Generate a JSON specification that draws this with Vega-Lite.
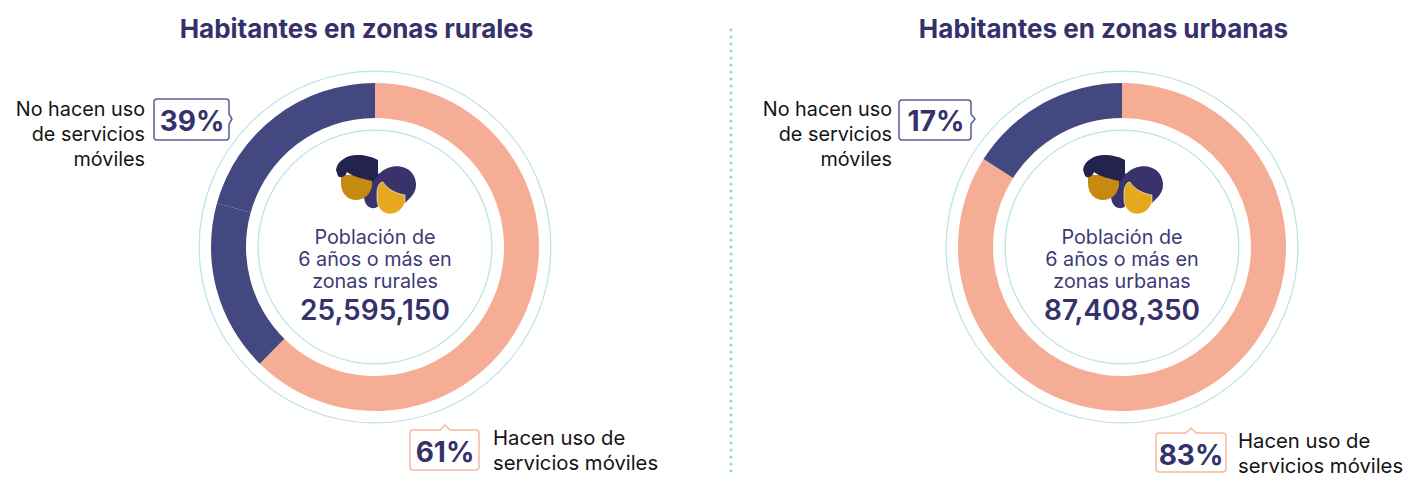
{
"$schema":"https://vega.github.io/schema/vega-lite/v6.json",
"padding":{"left":0,"top":7,"right":0,"bottom":0},
"background":"white",
"bounds":"flush",
"spacing":73.5,
"config":{"view":{"stroke":null},"text":{"font":"Inter"}},
"hconcat":[
{"width":750,"height":480,"layer":[
{"data":{"values":[{}]},"mark":{"type":"arc","radius":176.5,"radius2":175.3,"theta":0,"theta2":6.2832,"fill":"#bde4df"}},
{"data":{"values":[{}]},"mark":{"type":"arc","radius":117.5,"radius2":116.3,"theta":0,"theta2":6.2832,"fill":"#bde4df"}},
{"data":{"values":[{"segmento":"Hacen uso","orden":1,"valor":62.4},{"segmento":"No hacen uso","orden":2,"valor":16.9},{"segmento":"No hacen uso","orden":3,"valor":20.7}]},
 "mark":{"type":"arc","radius":164,"radius2":129},
 "encoding":{"theta":{"field":"valor","type":"quantitative","stack":true},"order":{"field":"orden"},"color":{"field":"segmento","type":"nominal","legend":null,"scale":{"domain":["Hacen uso","No hacen uso"],"range":["#f6ad95","#434880"]}}}},
{"data":{"values":[{}]},"mark":{"type":"point","size":4,"opacity":1,"shape":"M356,-217 L356,225","fill":null,"stroke":"#8fdcc8","strokeWidth":3,"strokeCap":"round","strokeDash":[0,7]}},
{"data":{"values":[{}]},"mark":{"type":"point","size":4,"opacity":1,"strokeWidth":0,"fill":"#38346b","shape":"M-11,-50 C-8,-60 -2,-72 5,-74 C14,-83 30,-83 37,-74 C43,-66 42,-56 36,-50 L28,-42 L4,-42 C0,-36 -10,-38 -11,-50 Z"}},
{"data":{"values":[{}]},"mark":{"type":"point","size":4,"opacity":1,"strokeWidth":0,"fill":"#c68a12","shape":"M-34,-72 L-3,-72 L-3,-62 C-4,-52 -12,-47 -19,-47 C-28,-47 -34,-54 -34,-64 Z"}},
{"data":{"values":[{}]},"mark":{"type":"point","size":4,"opacity":1,"strokeWidth":0,"fill":"#24224f","shape":"M-39,-77 C-38,-86 -28,-92 -18,-92 C-10,-92 -2,-90 3,-87 L3,-72 L-2,-65 L-3,-66 C-10,-68 -22,-70 -28,-75 C-29,-71 -34,-68 -37,-71 Z"}},
{"data":{"values":[{}]},"mark":{"type":"point","size":4,"opacity":1,"stroke":"#ffffff","strokeWidth":0.6,"fill":"#e5a81f","shape":"M2,-56 C3,-62 5,-65 8,-65 C12,-58 22,-53 30,-52 L30,-45 C28,-38 22,-33 15,-33 C7,-33 2,-40 2,-48 Z"}},
{"data":{"values":[{}]},"mark":{"type":"point","size":4,"opacity":1,"fill":"#ffffff","stroke":"#5d5c96","strokeWidth":1.5,"shape":"M-218,-148 L-149,-148 Q-146,-148 -146,-145 L-146,-133 L-143,-128 L-146,-123 L-146,-110 Q-146,-107 -149,-107 L-218,-107 Q-221,-107 -221,-110 L-221,-145 Q-221,-148 -218,-148 Z"}},
{"data":{"values":[{}]},"mark":{"type":"point","size":4,"opacity":1,"fill":"#ffffff","stroke":"#f7b9a3","strokeWidth":1.5,"shape":"M38,183 L65,183 L70,178 L75,183 L101,183 Q104,183 104,186 L104,220 Q104,223 101,223 L38,223 Q35,223 35,220 L35,186 Q35,183 38,183 Z"}},
{"data":{"values":[{"t":"Habitantes en zonas rurales"}]},"mark":{"type":"text","dx":-18.5,"dy":-209,"fontSize":26,"fontWeight":700,"align":"center","baseline":"alphabetic","fill":"#35326b"},"encoding":{"text":{"field":"t"}}},
{"data":{"values":[{"t":"Población de\n6 años o más en\nzonas rurales"}]},"mark":{"type":"text","dx":0,"dy":-3.5,"fontSize":19.8,"lineHeight":22,"lineBreak":"\n","align":"center","baseline":"alphabetic","fill":"#3d3a75"},"encoding":{"text":{"field":"t"}}},
{"data":{"values":[{"t":"25,595,150"}]},"mark":{"type":"text","dx":0,"dy":73,"fontSize":28,"fontWeight":600,"align":"center","baseline":"alphabetic","fill":"#35326b"},"encoding":{"text":{"field":"t"}}},
{"data":{"values":[{"t":"No hacen uso\nde servicios\nmóviles"}]},"mark":{"type":"text","dx":-230,"dy":-131,"fontSize":19.8,"lineHeight":25,"lineBreak":"\n","align":"right","baseline":"alphabetic","fill":"#141414"},"encoding":{"text":{"field":"t"}}},
{"data":{"values":[{"t":"Hacen uso de\nservicios móviles"}]},"mark":{"type":"text","dx":118,"dy":198,"fontSize":20.3,"lineHeight":25,"lineBreak":"\n","align":"left","baseline":"alphabetic","fill":"#141414"},"encoding":{"text":{"field":"t"}}},
{"data":{"values":[{"t":"39%"}]},"mark":{"type":"text","dx":-183,"dy":-116,"fontSize":28,"fontWeight":700,"align":"center","baseline":"alphabetic","fill":"#35326b"},"encoding":{"text":{"field":"t"}}},
{"data":{"values":[{"t":"61%"}]},"mark":{"type":"text","dx":70,"dy":215,"fontSize":28,"fontWeight":700,"align":"center","baseline":"alphabetic","fill":"#35326b"},"encoding":{"text":{"field":"t"}}}
]},
{"width":597,"height":480,"layer":[
{"data":{"values":[{}]},"mark":{"type":"arc","radius":176.5,"radius2":175.3,"theta":0,"theta2":6.2832,"fill":"#bde4df"}},
{"data":{"values":[{}]},"mark":{"type":"arc","radius":117.5,"radius2":116.3,"theta":0,"theta2":6.2832,"fill":"#bde4df"}},
{"data":{"values":[{"segmento":"Hacen uso","orden":1,"valor":84},{"segmento":"No hacen uso","orden":2,"valor":16}]},
 "mark":{"type":"arc","radius":164,"radius2":129},
 "encoding":{"theta":{"field":"valor","type":"quantitative","stack":true},"order":{"field":"orden"},"color":{"field":"segmento","type":"nominal","legend":null,"scale":{"domain":["Hacen uso","No hacen uso"],"range":["#f6ad95","#434880"]}}}},
{"data":{"values":[{}]},"mark":{"type":"point","size":4,"opacity":1,"strokeWidth":0,"fill":"#38346b","shape":"M-11,-50 C-8,-60 -2,-72 5,-74 C14,-83 30,-83 37,-74 C43,-66 42,-56 36,-50 L28,-42 L4,-42 C0,-36 -10,-38 -11,-50 Z"}},
{"data":{"values":[{}]},"mark":{"type":"point","size":4,"opacity":1,"strokeWidth":0,"fill":"#c68a12","shape":"M-34,-72 L-3,-72 L-3,-62 C-4,-52 -12,-47 -19,-47 C-28,-47 -34,-54 -34,-64 Z"}},
{"data":{"values":[{}]},"mark":{"type":"point","size":4,"opacity":1,"strokeWidth":0,"fill":"#24224f","shape":"M-39,-77 C-38,-86 -28,-92 -18,-92 C-10,-92 -2,-90 3,-87 L3,-72 L-2,-65 L-3,-66 C-10,-68 -22,-70 -28,-75 C-29,-71 -34,-68 -37,-71 Z"}},
{"data":{"values":[{}]},"mark":{"type":"point","size":4,"opacity":1,"stroke":"#ffffff","strokeWidth":0.6,"fill":"#e5a81f","shape":"M2,-56 C3,-62 5,-65 8,-65 C12,-58 22,-53 30,-52 L30,-45 C28,-38 22,-33 15,-33 C7,-33 2,-40 2,-48 Z"}},
{"data":{"values":[{}]},"mark":{"type":"point","size":4,"opacity":1,"fill":"#ffffff","stroke":"#5d5c96","strokeWidth":1.5,"shape":"M-220,-147 L-154,-147 Q-151,-147 -151,-144 L-151,-133 L-147,-128 L-151,-123 L-151,-110 Q-151,-107 -154,-107 L-220,-107 Q-223,-107 -223,-110 L-223,-144 Q-223,-147 -220,-147 Z"}},
{"data":{"values":[{}]},"mark":{"type":"point","size":4,"opacity":1,"fill":"#ffffff","stroke":"#f7b9a3","strokeWidth":1.5,"shape":"M37,186 L64,186 L69,181 L74,186 L101,186 Q104,186 104,189 L104,222 Q104,225 101,225 L37,225 Q34,225 34,222 L34,189 Q34,186 37,186 Z"}},
{"data":{"values":[{"t":"Habitantes en zonas urbanas"}]},"mark":{"type":"text","dx":-18.5,"dy":-209,"fontSize":26,"fontWeight":700,"align":"center","baseline":"alphabetic","fill":"#35326b"},"encoding":{"text":{"field":"t"}}},
{"data":{"values":[{"t":"Población de\n6 años o más en\nzonas urbanas"}]},"mark":{"type":"text","dx":0,"dy":-3.5,"fontSize":19.8,"lineHeight":22,"lineBreak":"\n","align":"center","baseline":"alphabetic","fill":"#3d3a75"},"encoding":{"text":{"field":"t"}}},
{"data":{"values":[{"t":"87,408,350"}]},"mark":{"type":"text","dx":0,"dy":73,"fontSize":28,"fontWeight":600,"align":"center","baseline":"alphabetic","fill":"#35326b"},"encoding":{"text":{"field":"t"}}},
{"data":{"values":[{"t":"No hacen uso\nde servicios\nmóviles"}]},"mark":{"type":"text","dx":-230,"dy":-131,"fontSize":19.8,"lineHeight":25,"lineBreak":"\n","align":"right","baseline":"alphabetic","fill":"#141414"},"encoding":{"text":{"field":"t"}}},
{"data":{"values":[{"t":"Hacen uso de\nservicios móviles"}]},"mark":{"type":"text","dx":116,"dy":200.5,"fontSize":20.3,"lineHeight":25,"lineBreak":"\n","align":"left","baseline":"alphabetic","fill":"#141414"},"encoding":{"text":{"field":"t"}}},
{"data":{"values":[{"t":"17%"}]},"mark":{"type":"text","dx":-186,"dy":-116,"fontSize":28,"fontWeight":700,"align":"center","baseline":"alphabetic","fill":"#35326b"},"encoding":{"text":{"field":"t"}}},
{"data":{"values":[{"t":"83%"}]},"mark":{"type":"text","dx":69,"dy":218,"fontSize":28,"fontWeight":700,"align":"center","baseline":"alphabetic","fill":"#35326b"},"encoding":{"text":{"field":"t"}}}
]}
]
}
